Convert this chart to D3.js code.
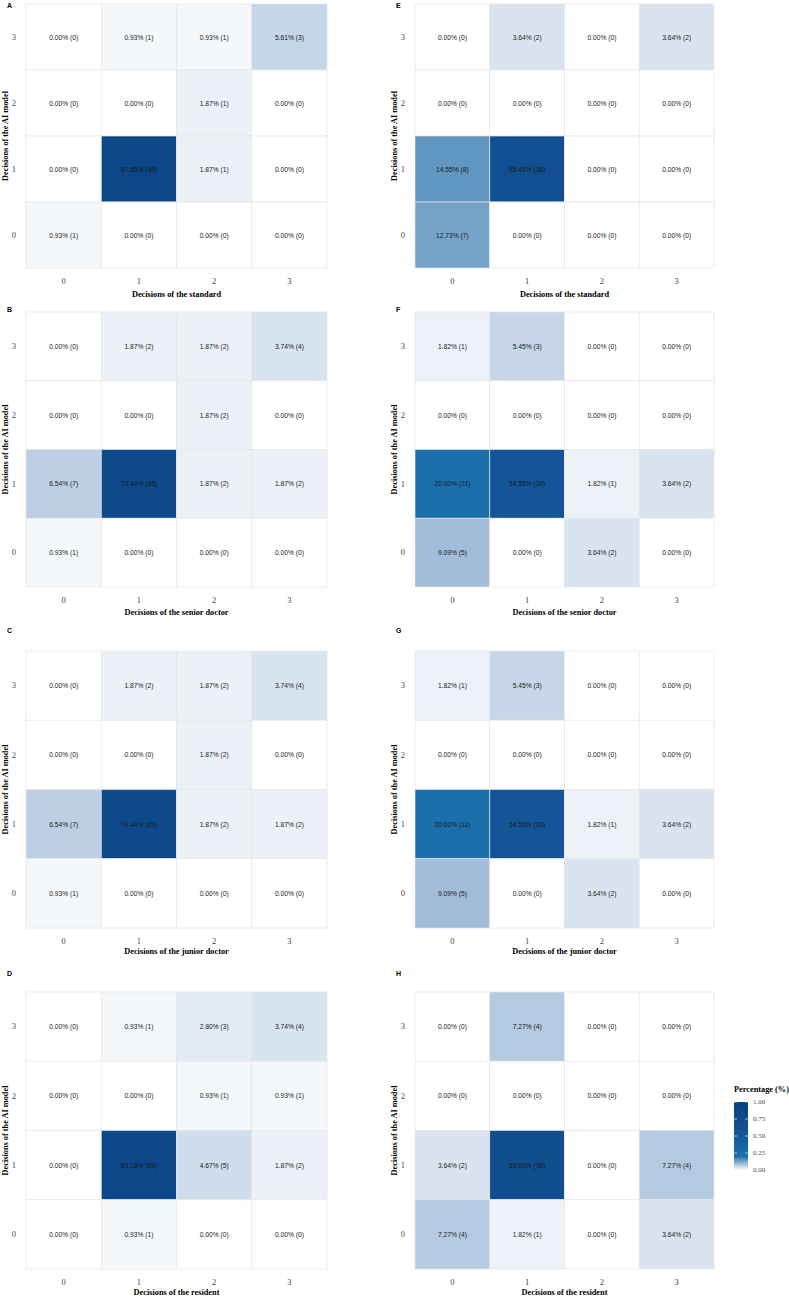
<!DOCTYPE html>
<html>
<head>
<meta charset="utf-8">
<script src="https://cdn.jsdelivr.net/npm/d3@7"></script>
<style>
  body { margin: 0; background: #fff; }
  svg { display: block; }
</style>
</head>
<body>
<svg id="fig" width="789" height="1296"></svg>
<script>
// categories
const xCats = ["0", "1", "2", "3"];
const yCats = ["0", "1", "2", "3"];
const panelLetters = ["A", "B", "C", "D", "E", "F", "G", "H"];
const xTitles = [
  "Decisions of the standard", "Decisions of the senior doctor",
  "Decisions of the junior doctor", "Decisions of the resident",
  "Decisions of the standard", "Decisions of the senior doctor",
  "Decisions of the junior doctor", "Decisions of the resident"
];
const yTitle = "Decisions of the AI model";
const legendTitle = "Percentage (%)";
const legendTicks = [0, 0.25, 0.5, 0.75, 1];

// percentages, rows from AI decision 3 (top) down to 0, columns reference decision 0..3
const pctA = [[0, 0.93, 0.93, 5.61], [0, 0, 1.87, 0], [0, 87.85, 1.87, 0], [0.93, 0, 0, 0]];
const cntA = [[0, 1, 1, 3], [0, 0, 1, 0], [0, 48, 1, 0], [1, 0, 0, 0]];
const pctB = [[0, 1.87, 1.87, 3.74], [0, 0, 1.87, 0], [6.54, 79.44, 1.87, 1.87], [0.93, 0, 0, 0]];
const cntB = [[0, 2, 2, 4], [0, 0, 2, 0], [7, 85, 2, 2], [1, 0, 0, 0]];
const pctC = [[0, 1.87, 1.87, 3.74], [0, 0, 1.87, 0], [6.54, 79.44, 1.87, 1.87], [0.93, 0, 0, 0]];
const cntC = [[0, 2, 2, 4], [0, 0, 2, 0], [7, 85, 2, 2], [1, 0, 0, 0]];
const pctD = [[0, 0.93, 2.80, 3.74], [0, 0, 0.93, 0.93], [0, 83.18, 4.67, 1.87], [0, 0.93, 0, 0]];
const cntD = [[0, 1, 3, 4], [0, 0, 1, 1], [0, 89, 5, 2], [0, 1, 0, 0]];
const pctE = [[0, 3.64, 0, 3.64], [0, 0, 0, 0], [14.55, 65.45, 0, 0], [12.73, 0, 0, 0]];
const cntE = [[0, 2, 0, 2], [0, 0, 0, 0], [8, 36, 0, 0], [7, 0, 0, 0]];
const pctF = [[1.82, 5.45, 0, 0], [0, 0, 0, 0], [20.00, 54.55, 1.82, 3.64], [9.09, 0, 3.64, 0]];
const cntF = [[1, 3, 0, 0], [0, 0, 0, 0], [11, 30, 1, 2], [5, 0, 2, 0]];
const pctG = [[1.82, 5.45, 0, 0], [0, 0, 0, 0], [20.00, 54.55, 1.82, 3.64], [9.09, 0, 3.64, 0]];
const cntG = [[1, 3, 0, 0], [0, 0, 0, 0], [11, 30, 1, 2], [5, 0, 2, 0]];
const pctH = [[0, 7.27, 0, 0], [0, 0, 0, 0], [3.64, 69.09, 0, 7.27], [7.27, 1.82, 0, 3.64]];
const cntH = [[0, 4, 0, 0], [0, 0, 0, 0], [2, 38, 0, 4], [4, 1, 0, 2]];

const pctAll = [pctA, pctB, pctC, pctD, pctE, pctF, pctG, pctH];
const cntAll = [cntA, cntB, cntC, cntD, cntE, cntF, cntG, cntH];

const SERIF = "'Liberation Serif', 'Times New Roman', serif";
const SANS = "'Liberation Sans', Arial, sans-serif";

// layout of the panel grid
const colLeft = [26, 415];
const colRight = [327, 714];
const rowTop = [4, 312, 651, 992];
const rowBottom = [268, 587, 928, 1269];
const labelY = [8, 312, 633, 976];
const titleGap = [26, 25, 23, 23];

const color = d3.scaleLinear()
  .domain([0, 0.1, 0.2, 0.6, 1])
  .range(["#ffffff", "#98b6d6", "#1b6faa", "#125194", "#0a4282"])
  .clamp(true);

const svg = d3.select("#fig");

function drawPanel(p) {
  const col = Math.floor(p / 4), row = p % 4;
  const left = colLeft[col], right = colRight[col];
  const top = rowTop[row], bottom = rowBottom[row];

  const x = d3.scaleBand().domain(xCats).range([left, right]);
  const y = d3.scaleBand().domain(yCats).range([bottom, top]);

  const cells = [];
  pctAll[p].forEach((r, i) => {
    r.forEach((v, j) => {
      cells.push({ xc: xCats[j], yc: yCats[3 - i], pct: v, n: cntAll[p][i][j] });
    });
  });

  const g = svg.append("g").attr("class", `panel-${panelLetters[p]}`);

  g.selectAll("rect")
    .data(cells)
    .join("rect")
    .attr("x", d => x(d.xc))
    .attr("y", d => y(d.yc))
    .attr("width", x.bandwidth())
    .attr("height", y.bandwidth())
    .style("fill", d => color(d.pct / 100))
    .style("stroke", "#e6e6e6")
    .style("stroke-width", 0.7);

  g.selectAll("text.cell")
    .data(cells)
    .join("text")
    .attr("class", "cell")
    .attr("x", d => x(d.xc) + x.bandwidth() / 2)
    .attr("y", d => y(d.yc) + y.bandwidth() / 2)
    .attr("text-anchor", "middle")
    .attr("dominant-baseline", "central")
    .style("font-family", SANS)
    .style("font-size", "6.7px")
    .style("fill", "#1a1a1a")
    .text(d => `${d.pct.toFixed(2)}% (${d.n})`);

  // axes
  const xAxis = g.append("g")
    .attr("transform", `translate(0,${bottom + 10})`)
    .call(d3.axisBottom(x).tickSize(0).tickPadding(0));
  const yAxis = g.append("g")
    .attr("transform", `translate(${left - 10},0)`)
    .call(d3.axisLeft(y).tickSize(0).tickPadding(0));
  [xAxis, yAxis].forEach(a => {
    a.select(".domain").remove();
    a.selectAll("text")
      .style("font-family", SERIF)
      .style("font-size", "8.5px")
      .style("fill", "#444");
  });
  xAxis.selectAll("text").attr("dy", "0.71em").attr("y", 0);

  g.append("text")
    .attr("x", (left + right) / 2)
    .attr("y", bottom + titleGap[row])
    .attr("text-anchor", "middle")
    .attr("dominant-baseline", "central")
    .style("font-family", SERIF)
    .style("font-weight", "bold")
    .style("font-size", "8.3px")
    .text(xTitles[p]);

  g.append("text")
    .attr("transform", `translate(${left - 21},${(top + bottom) / 2}) rotate(-90)`)
    .attr("text-anchor", "middle")
    .attr("dominant-baseline", "central")
    .style("font-family", SERIF)
    .style("font-weight", "bold")
    .style("font-size", "8.3px")
    .text(yTitle);

  g.append("text")
    .attr("x", left - 19)
    .attr("y", labelY[row])
    .style("font-family", SANS)
    .style("font-weight", "bold")
    .style("font-size", "7px")
    .text(panelLetters[p]);
}

d3.range(8).forEach(drawPanel);

// legend
const legX = 734, legTop = 1102, legBottom = 1170, legW = 14;
const legScale = d3.scaleLinear().domain([0, 1]).range([legBottom, legTop]);

const defs = svg.append("defs");
const grad = defs.append("linearGradient")
  .attr("id", "leg-grad")
  .attr("x1", 0).attr("y1", 1).attr("x2", 0).attr("y2", 0);
grad.selectAll("stop")
  .data(d3.range(0, 1.0001, 0.02))
  .join("stop")
  .attr("offset", d => d)
  .attr("stop-color", d => color(d));

const leg = svg.append("g").attr("class", "legend");
leg.append("text")
  .attr("x", legX)
  .attr("y", 1089)
  .attr("dominant-baseline", "central")
  .style("font-family", SERIF)
  .style("font-weight", "bold")
  .style("font-size", "8.3px")
  .text(legendTitle);

leg.append("rect")
  .attr("x", legX)
  .attr("y", legTop)
  .attr("width", legW)
  .attr("height", legBottom - legTop)
  .style("fill", "url(#leg-grad)");

leg.selectAll("line.tl")
  .data(legendTicks)
  .join("line")
  .attr("class", "tl")
  .attr("x1", legX).attr("x2", legX + 3)
  .attr("y1", d => legScale(d)).attr("y2", d => legScale(d))
  .style("stroke", "#fff").style("stroke-width", 0.6);
leg.selectAll("line.tr")
  .data(legendTicks)
  .join("line")
  .attr("class", "tr")
  .attr("x1", legX + legW - 3).attr("x2", legX + legW)
  .attr("y1", d => legScale(d)).attr("y2", d => legScale(d))
  .style("stroke", "#fff").style("stroke-width", 0.6);

leg.selectAll("text.tick")
  .data(legendTicks)
  .join("text")
  .attr("class", "tick")
  .attr("x", legX + legW + 5)
  .attr("y", d => legScale(d))
  .attr("dominant-baseline", "central")
  .style("font-family", SERIF)
  .style("font-size", "7px")
  .style("fill", "#4d4d4d")
  .text(d => d.toFixed(2));
</script>
</body>
</html>
